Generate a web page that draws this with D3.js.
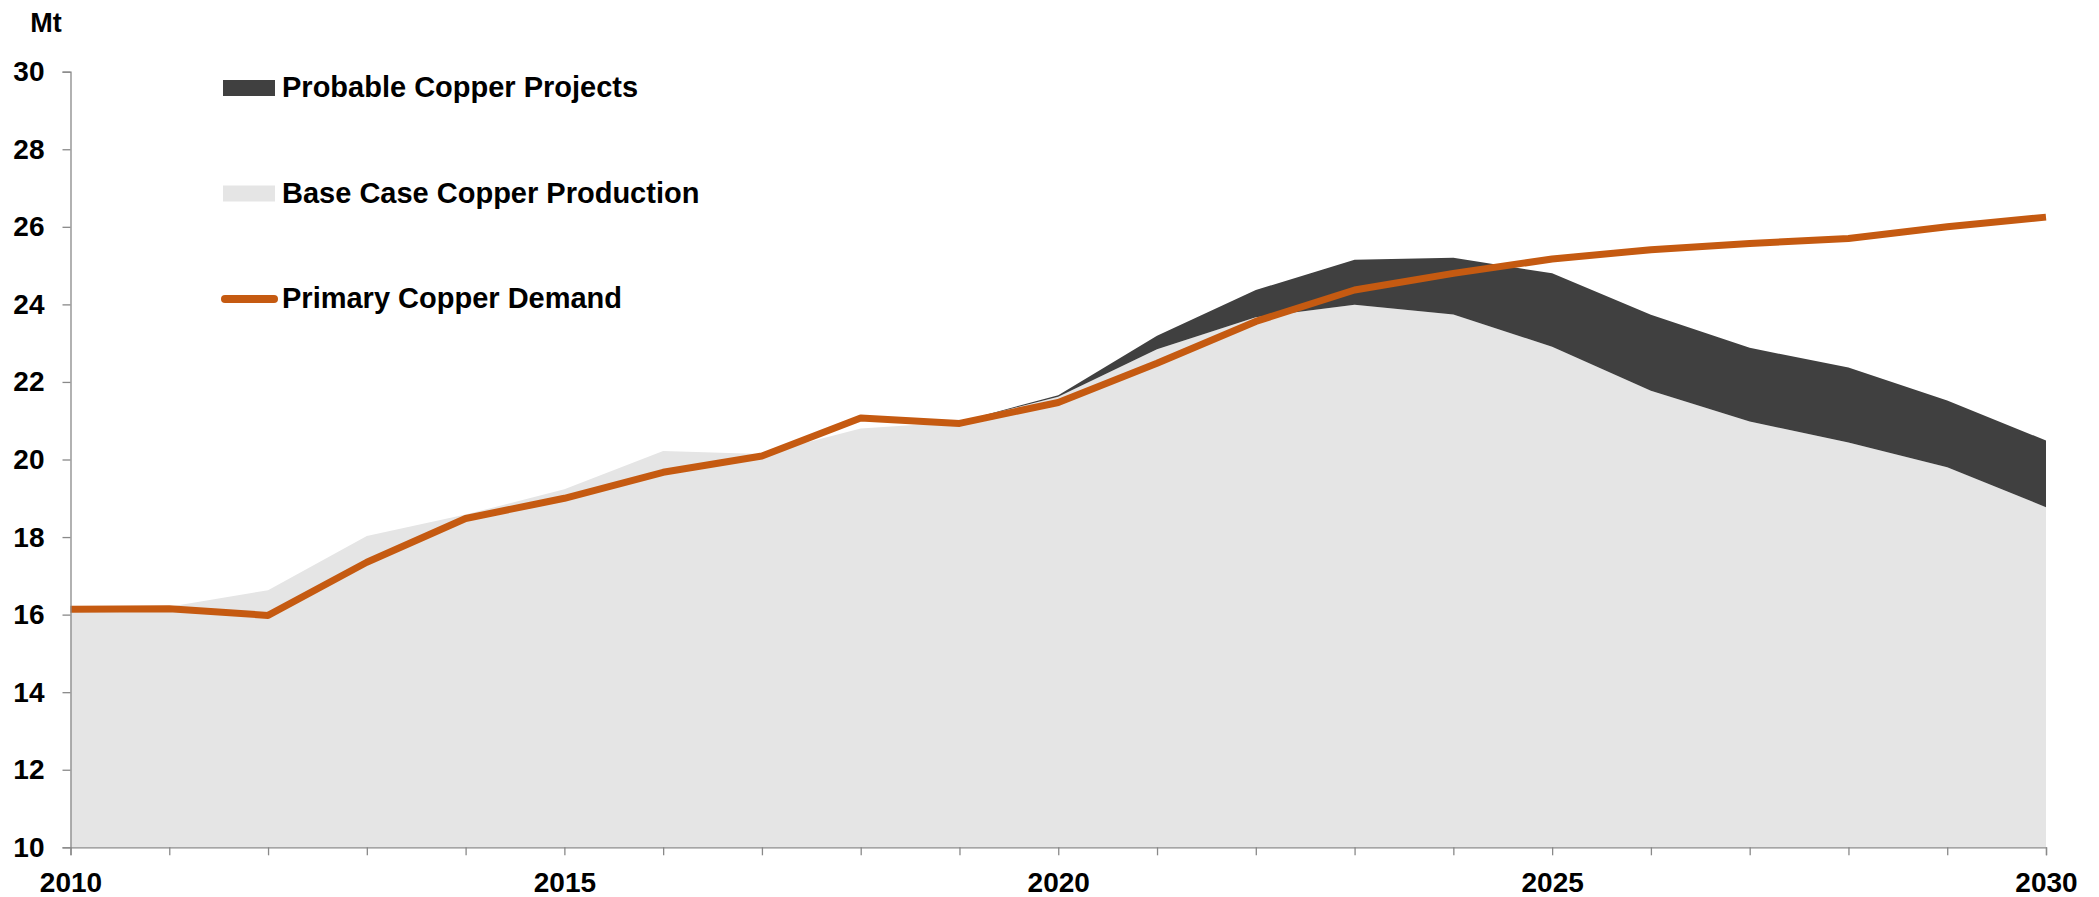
<!DOCTYPE html>
<html>
<head>
<meta charset="utf-8">
<script src="https://cdn.jsdelivr.net/npm/d3@7"></script>
<style>
  body { margin: 0; background: #fff; }
  svg { display: block; font-family: 'Liberation Sans', Arial, sans-serif; font-weight: bold; }
</style>
</head>
<body>
<svg></svg>
<script>
// copper supply vs demand, Mt
const years = d3.range(2010, 2031);
const baseCase = [16.2, 16.2, 16.63, 18.03, 18.58, 19.23, 20.22, 20.14, 20.8, 20.97,
  21.62, 22.84, 23.67, 23.99, 23.74, 22.91, 21.77, 20.98, 20.44, 19.8, 18.77];
const probableProjects = [0, 0, 0, 0, 0, 0, 0, 0, 0, 0,
  0.04, 0.35, 0.70, 1.16, 1.46, 1.89, 1.96, 1.90, 1.93, 1.72, 1.72];
const primaryDemand = [16.14, 16.15, 15.98, 17.35, 18.48, 19.0, 19.67, 20.09, 21.07, 20.93,
  21.47, 22.48, 23.56, 24.37, 24.8, 25.17, 25.41, 25.57, 25.7, 26.0, 26.25];
const yTicks = [10, 12, 14, 16, 18, 20, 22, 24, 26, 28, 30];
const xLabels = [2010, 2015, 2020, 2025, 2030];

const legendItems = [
  { name: 'Probable Copper Projects', type: 'rect', color: '#404040' },
  { name: 'Base Case Copper Production', type: 'rect', color: '#e5e5e5' },
  { name: 'Primary Copper Demand', type: 'line', color: '#c55a11' },
];

var width = 2099, height = 897;
var svg = d3.select('svg').attr('width', width).attr('height', height);

var x = d3.scaleLinear().domain([2010, 2030]).range([70.5, 2046]);
var y = d3.scaleLinear().domain([10, 30]).range([847.3, 71.7]);

// stack base + projects on top of each other
var rows = years.map(function(yr, i) {
  return { year: yr, base: baseCase[i], probable: probableProjects[i] };
});
var stacked = d3.stack().keys(['base', 'probable'])(rows);
var fills = { base: '#e5e5e5', probable: '#404040' };

var area = d3.area()
  .x(function(d) { return x(d.data.year); })
  .y0(function(d) { return y(Math.max(d[0], 10)); })
  .y1(function(d) { return y(d[1]); });

svg.append('g').selectAll('path').data(stacked).join('path')
  .attr('fill', function(d) { return fills[d.key]; })
  .attr('d', area);

// demand line
svg.append('path')
  .datum(years.map(function(yr, i) { return [yr, primaryDemand[i]]; }))
  .attr('fill', 'none')
  .attr('stroke', '#c55a11')
  .attr('stroke-width', 7)
  .attr('stroke-linejoin', 'round')
  .attr('d', d3.line().x(function(d) { return x(d[0]); }).y(function(d) { return y(d[1]); }));

// axes
var yAxis = svg.append('g').attr('transform', 'translate(' + x(2010) + ',0)')
  .call(d3.axisLeft(y).tickValues(yTicks).tickSize(8).tickPadding(18).tickFormat(d3.format('d')));

var xAxis = svg.append('g').attr('transform', 'translate(0,' + y(10) + ')')
  .call(d3.axisBottom(x).tickValues(years).tickSize(8).tickPadding(17)
    .tickFormat(function(d) { return xLabels.indexOf(d) >= 0 ? d : ''; }));

[yAxis, xAxis].forEach(function(ax) {
  ax.select('.domain').attr('stroke', '#898989').attr('stroke-width', 1.3);
  ax.selectAll('.tick line').attr('stroke', '#898989').attr('stroke-width', 1.3);
  ax.selectAll('.tick text').attr('fill', '#000').style('font-size', '28px')
    .style('font-family', "'Liberation Sans', Arial, sans-serif").style('font-weight', 'bold');
});

svg.append('text').attr('x', 46).attr('y', 32).attr('text-anchor', 'middle')
  .style('font-size', '27px').text('Mt');

// legend, top left inside plot
var legend = svg.append('g').selectAll('g').data(legendItems).join('g')
  .attr('transform', function(d, i) { return 'translate(223,' + (88 + i * 105.5) + ')'; });

legend.filter(function(d) { return d.type == 'rect'; }).append('rect')
  .attr('x', 0).attr('y', -8).attr('width', 52).attr('height', 16)
  .attr('fill', function(d) { return d.color; });

legend.filter(function(d) { return d.type == 'line'; }).append('line')
  .attr('x1', 2).attr('x2', 51).attr('y1', 0).attr('y2', 0)
  .attr('stroke', function(d) { return d.color; })
  .attr('stroke-width', 8).attr('stroke-linecap', 'round');

legend.append('text').attr('x', 59).attr('y', 9)
  .style('font-size', '29px').attr('fill', '#000')
  .text(function(d) { return d.name; });
</script>
</body>
</html>
